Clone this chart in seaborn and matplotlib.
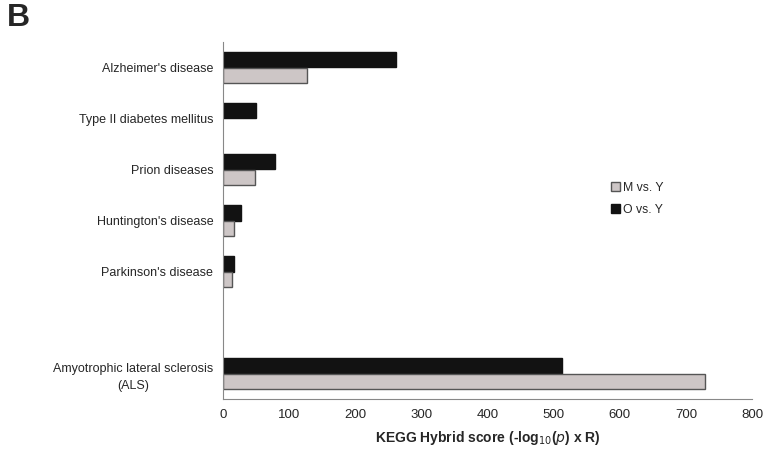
import matplotlib
matplotlib.use("Agg")
import matplotlib.pyplot as plt
import seaborn as sns
import pandas as pd
import numpy as np
from matplotlib.patches import Patch

categories = ["Alzheimer's disease", "Type II diabetes mellitus", "Prion diseases",
              "Huntington's disease", "Parkinson's disease", " ",
              "Amyotrophic lateral sclerosis\n(ALS)"]
o_vs_y = [262, 50, 79, 27, 16, None, 513]
m_vs_y = [127, None, 48, 17, 13, None, 729]
series_names = ["O vs. Y", "M vs. Y"]
legend_order = ["M vs. Y", "O vs. Y"]
xticks = [0, 100, 200, 300, 400, 500, 600, 700, 800]

rows = []
for c, o, m in zip(categories, o_vs_y, m_vs_y):
    if o is not None:
        rows.append({"category": c, "series": "O vs. Y", "score": o})
    if m is not None:
        rows.append({"category": c, "series": "M vs. Y", "score": m})
df = pd.DataFrame(rows)

sns.set_style("white")
plt.rcParams['font.family'] = ['Liberation Sans', 'DejaVu Sans']

fig = plt.figure(figsize=(7.65, 4.58), dpi=100)
ax = fig.add_axes([223/765, 1-399/458, (752-223)/765, (399-42)/458])

colors = {"O vs. Y": "#121212", "M vs. Y": "#cdc6c6"}
edges = {"O vs. Y": "#121212", "M vs. Y": "#555555"}
sns.barplot(data=df, y="category", x="score", hue="series", order=categories,
            hue_order=series_names, palette=colors, orient="h", width=0.59,
            dodge=True, ax=ax, legend=False, errorbar=None, saturation=1)

for i, cont in enumerate(ax.containers):
    name = series_names[i]
    for p in cont:
        p.set_edgecolor(edges[name])
        p.set_linewidth(1.0)

ax.set_xlim(0, 800)
ax.set_ylim(len(categories) - 0.5, -0.5)
ax.set_xticks(xticks)
ax.set_xticklabels([str(t) for t in xticks], fontsize=9.5)
ax.set_yticks(range(len(categories)))
ax.set_yticklabels(categories, fontsize=9, multialignment='center', linespacing=1.55)
ax.tick_params(axis='y', which='major', length=0, pad=7)
ax.set_yticks(np.arange(-0.5, len(categories), 1.0), minor=True)
ax.tick_params(axis='y', which='minor', length=4, direction='out', color='#888888', width=0.8)
ax.tick_params(axis='x', which='major', length=4, direction='out', color='#888888', width=0.8, pad=3)
ax.set_ylabel("")
ax.set_xlabel("KEGG Hybrid score (-log$_{10}$($p$) x R)",
              fontsize=10, fontweight='bold', labelpad=6)

for s in ["top", "right"]:
    ax.spines[s].set_visible(False)
for s in ["left", "bottom"]:
    ax.spines[s].set_color("#888888")
    ax.spines[s].set_linewidth(0.8)

handles = [Patch(facecolor=colors[n], edgecolor=edges[n], linewidth=1.0) for n in legend_order]
ax.legend(handles, legend_order, loc='upper left',
          bbox_to_anchor=(600/765, 1-171/458), bbox_transform=fig.transFigure,
          frameon=False, handlelength=0.7, handleheight=0.7, handletextpad=0.3,
          fontsize=8.8, labelspacing=0.8)

fig.text(7/765, 1-3/458, "B", fontsize=23, fontweight='bold', va='top', ha='left')

fig.savefig("out.png", dpi=100)
